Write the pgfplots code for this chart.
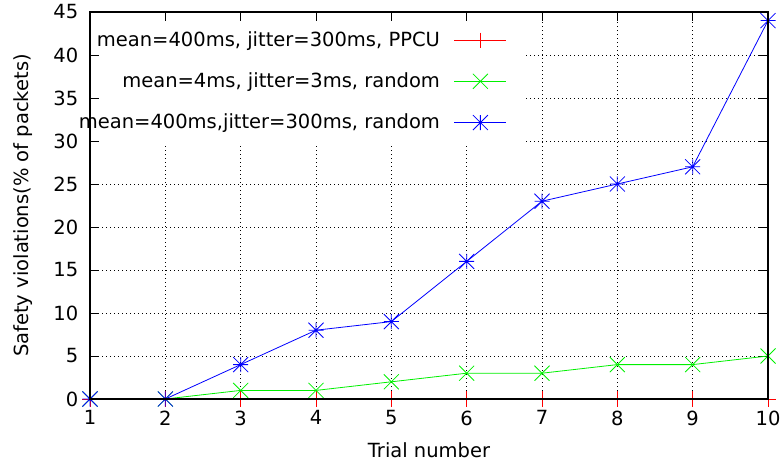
\documentclass[border=0pt]{standalone}
\usepackage{pgfplots}
\pgfplotsset{compat=1.18}
\usepackage{fontspec}
\setmainfont{DejaVu Sans}
\definecolor{gpred}{RGB}{255,0,0}
\definecolor{gpgreen}{RGB}{0,240,0}
\definecolor{gpblue}{RGB}{0,0,255}
\pgfdeclareplotmark{gpstar}{%
 \pgfpathmoveto{\pgfqpoint{-\pgfplotmarksize}{0pt}}\pgfpathlineto{\pgfqpoint{\pgfplotmarksize}{0pt}}%
 \pgfpathmoveto{\pgfqpoint{0pt}{-\pgfplotmarksize}}\pgfpathlineto{\pgfqpoint{0pt}{\pgfplotmarksize}}%
 \pgfpathmoveto{\pgfqpoint{-\pgfplotmarksize}{-\pgfplotmarksize}}\pgfpathlineto{\pgfqpoint{\pgfplotmarksize}{\pgfplotmarksize}}%
 \pgfpathmoveto{\pgfqpoint{-\pgfplotmarksize}{\pgfplotmarksize}}\pgfpathlineto{\pgfqpoint{\pgfplotmarksize}{-\pgfplotmarksize}}%
 \pgfusepathqstroke}
\pgfdeclareplotmark{gpx}{%
 \pgfpathmoveto{\pgfqpoint{-\pgfplotmarksize}{-\pgfplotmarksize}}\pgfpathlineto{\pgfqpoint{\pgfplotmarksize}{\pgfplotmarksize}}%
 \pgfpathmoveto{\pgfqpoint{-\pgfplotmarksize}{\pgfplotmarksize}}\pgfpathlineto{\pgfqpoint{\pgfplotmarksize}{-\pgfplotmarksize}}%
 \pgfusepathqstroke}
\begin{document}
\fontsize{19.5pt}{23pt}\selectfont
\begin{tikzpicture}
\useasboundingbox (-90pt,-66pt) rectangle (693pt,399pt);
\begin{axis}[
  name=ax,
  scale only axis,
  width=678pt, height=387pt,
  xmin=1, xmax=10, ymin=0, ymax=45,
  xtick={1,...,10}, ytick={0,5,...,45},
  /pgf/number format/assume math mode=true,
  tick label style={font=\fontsize{19.5pt}{23pt}\selectfont},
  xticklabel style={yshift=-5pt},
  yticklabel style={xshift=-5pt},
  label style={font=\fontsize{19.5pt}{23pt}\selectfont},
  major tick length=9pt,
  tick align=inside,
  tick style={black, line width=0.8pt},
  axis line style={black, line width=1.3pt},
  grid=major,
  major grid style={black, line width=0.7pt, dash pattern=on 1pt off 3pt},
  xlabel={Trial number},
  ylabel={Safety violations(\% of packets)},
  xlabel style={at={(rel axis cs:0.5,0)}, anchor=center, yshift=-51pt},
  ylabel style={at={(rel axis cs:0,0.5)}, anchor=center, yshift=67pt},
  clip=false,
  legend plot pos=right,
  legend cell align=right,
  legend style={at={(0.618,1)}, anchor=north east, draw=none, fill=none,
    inner xsep=2pt, inner ysep=17pt, row sep=19.5pt, column sep=12pt,
    font=\fontsize{19.5pt}{23pt}\selectfont},
  legend image code/.code={
    \draw[mark repeat=2,mark phase=2,#1] plot coordinates {(0pt,0pt) (26pt,0pt) (52pt,0pt)};
  },
]
\fill[white] (rel axis cs:0.015,0.654) rectangle (rel axis cs:0.6416,0.974);
\addplot[gpred, line width=0.8pt, mark=+, mark size=7.5pt] coordinates {
(1,0) (2,0) (3,0) (4,0) (5,0) (6,0) (7,0) (8,0) (9,0) (10,0)};
\addlegendentry{mean=400ms, jitter=300ms, PPCU}
\addplot[gpgreen, line width=0.8pt, mark=gpx, mark size=7.5pt] coordinates {
(1,0) (2,0) (3,1) (4,1) (5,2) (6,3) (7,3) (8,4) (9,4) (10,5)};
\addlegendentry{mean=4ms, jitter=3ms, random}
\addplot[gpblue, line width=0.8pt, mark=gpstar, mark size=7.5pt] coordinates {
(1,0) (2,0) (3,4) (4,8) (5,9) (6,16) (7,23) (8,25) (9,27) (10,44)};
\addlegendentry{mean=400ms,jitter=300ms, random}
\end{axis}
\draw[black, line width=1.3pt] (ax.south west) rectangle (ax.north east);
\end{tikzpicture}
\end{document}
